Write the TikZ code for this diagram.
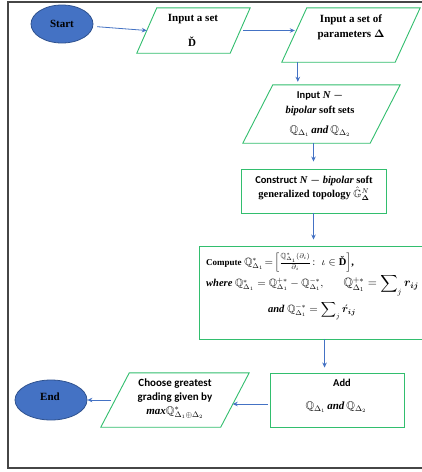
\documentclass[tikz,border=0pt]{standalone}
\usepackage{amsmath,amssymb,bm}
\usepackage{fontspec}
\setmainfont{Liberation Serif}
\newfontfamily\calib{Carlito}
\usetikzlibrary{shapes.geometric,arrows.meta,calc}
\definecolor{fgreen}{RGB}{50,190,110}
\definecolor{fblue}{RGB}{68,114,196}
\definecolor{eblue}{RGB}{47,82,143}
\definecolor{frame}{RGB}{70,70,70}
\newcommand\bi[1]{\textbf{\textit{#1}}}
\newcommand\paral[2]{\draw[ioline] (#1.south west) -- ($(#1.south east)-(#2,0)$) -- (#1.north east) -- ($(#1.north west)+(#2,0)$) -- cycle;}
\begin{document}
\begin{tikzpicture}[x=1pt,y=-1pt,
  every node/.style={font=\fontsize{11}{13}\selectfont\bfseries},
  terminal/.style={ellipse, draw=eblue, fill=fblue, line width=0.8pt, inner sep=0},
  iobox/.style={rectangle, draw=none, inner sep=0},
  ioline/.style={draw=fgreen, line width=0.9pt, line join=miter},
  procbox/.style={rectangle, draw=fgreen, line width=0.9pt, inner sep=0},
  txt/.style={inner sep=0, align=center},
  arr/.style={draw=fblue, line width=0.8pt, -{Stealth[length=5pt,width=4.5pt]}}
]
\useasboundingbox (0,0) rectangle (422,472);
\fill[white] (0,0) rectangle (422,472);
\clip (0,0) rectangle (422,472);
\draw[line width=1.2pt, draw=frame] (440,2) -- (8,2) -- (8,468) -- (440,468);

% shapes
\node[terminal, minimum width=62pt, minimum height=38pt] (start) at (62,24) {};
\node[iobox, minimum width=113pt, minimum height=45pt] (in1) at (193.5,30.5) {};
\node[iobox, minimum width=138pt, minimum height=54pt] (params) at (351,35) {};
\node[iobox, minimum width=157pt, minimum height=58pt] (nb) at (321.5,114) {};
\node[procbox, minimum width=145pt, minimum height=44pt] (construct) at (313.5,191) {};
\node[procbox, minimum width=241pt, minimum height=93pt] (compute) at (319.5,292.5) {};
\node[procbox, minimum width=134pt, minimum height=54pt] (add) at (337,400) {};
\node[iobox, minimum width=148pt, minimum height=54pt] (choose) at (175,400) {};
\node[terminal, minimum width=72pt, minimum height=40pt] (end) at (51,400) {};
\paral{in1}{20}
\paral{params}{25}
\paral{nb}{30}
\paral{choose}{28.5}

% texts
\node[txt] (startt) at (62,24) {Start};
\node[txt] (endt) at (50,397) {End};
\node[txt] (in1a) at (193,19) {Input a set};
\node[txt] (in1b) at (192,42) {Ď};
\node[txt, font=\fontsize{11}{15}\selectfont\bfseries] (paramst) at (351,27) {Input a set of\\parameters $\bm{\Delta}$};
\node[txt, font=\fontsize{10.5}{15}\selectfont\bfseries] (nbt) at (320,103.5) {{\calib Input} \bi{N} $\bm{-}$\\\bi{bipolar} soft sets};
\node[txt] (nbq) at (320,131) {$\mathbb{Q}_{\Delta_1}$\,\bi{and}\,$\mathbb{Q}_{\Delta_2}$};
\node[txt, font=\fontsize{10.5}{14}\selectfont\bfseries] (constructt) at (314,188) {{\calib Construct} \bi{N} $\bm{-}$ \bi{bipolar} soft\\generalized topology $\hat{\mathbb{G}}^{N}_{\bm{\Delta}}$};
\node[txt, anchor=west, font=\fontsize{10.5}{13}\selectfont\bfseries] (comp1) at (206,263) {{\fontsize{9}{11}\selectfont Compute} $\mathbb{Q}^{*}_{\Delta_1}\!=\!\left[\frac{\mathbb{Q}^{*}_{\Delta_1}(\partial_i)}{\partial_i}\colon\ \iota\in\text{Ď}\right]$,};
\node[txt, anchor=west, font=\fontsize{10.5}{12}\selectfont\bfseries] (comp2) at (206,285) {\bi{where} $\mathbb{Q}^{*}_{\Delta_1}=\mathbb{Q}^{+*}_{\Delta_1}-\mathbb{Q}^{-*}_{\Delta_1},$\hspace{20pt}{\fontsize{12}{13}\selectfont$\mathbb{Q}^{+*}_{\Delta_1}=\displaystyle\sum\nolimits_j \bm{r_{ij}}$}};
\node[txt, font=\fontsize{10.5}{13}\selectfont\bfseries] (comp3) at (312,311) {\bi{and} $\mathbb{Q}^{-*}_{\Delta_1}=\displaystyle\sum\nolimits_j \bm{\acute{r}_{ij}}$};
\node[txt, font=\calib\fontsize{10.5}{13}\selectfont\bfseries] (addt) at (342,383) {Add};
\node[txt] (addq) at (336,407) {$\mathbb{Q}_{\Delta_1}$\,\bi{and}\,$\mathbb{Q}_{\Delta_2}$};
\node[txt, font=\calib\fontsize{11}{14}\selectfont\bfseries] (chooset) at (175,399) {Choose greatest\\grading given by\\{\rmfamily\bi{max}}$\mathbb{Q}^{*}_{\Delta_1\oplus\Delta_2}$};

% connectors
\coordinate (in1l) at ($(in1.west)+(10,0)$);
\coordinate (q1) at ($(in1.east)+(-11,0)$);
\coordinate (q2) at ($(q1 -| params.west)+(13,0)$);
\coordinate (p1) at ($(params.south west)+(16,0)$);
\coordinate (ca) at ($(compute.south west)+(126,0)$);
\coordinate (a1) at ($(add.west)+(0,4)$);
\coordinate (a2) at ($(a1 -| choose.east)+(-16.5,0)$);
\coordinate (cw) at ($(choose.west)+(14,0)$);
\draw[arr, shorten <=4pt] (start) -- (in1l);
\draw[arr, shorten <=4pt] (q1) -- (q2);
\draw[arr, shorten >=3pt] (p1) -- (p1 |- nb.north);
\draw[arr, shorten >=7pt] (construct.north |- nb.south) -- (construct.north);
\draw[arr, shorten >=6pt] (construct.south) -- (construct.south |- compute.north);
\draw[arr, shorten >=5pt] (ca) -- (ca |- add.north);
\draw[arr, shorten <=2pt] (a1) -- (a2);
\draw[arr, shorten <=4pt] (cw) -- (end.east);
\end{tikzpicture}
\end{document}
